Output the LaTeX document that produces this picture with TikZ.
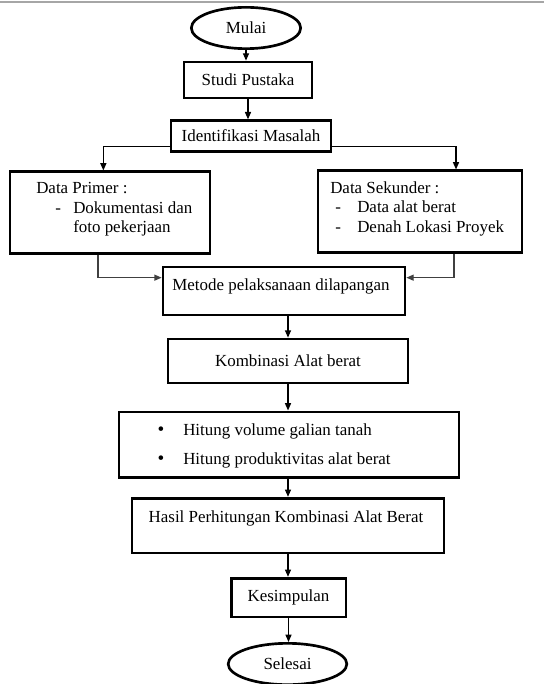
\documentclass[tikz,border=0pt]{standalone}
\usepackage{fontspec}
\setmainfont{Liberation Serif}
\usetikzlibrary{shapes.geometric,arrows.meta}

\begin{document}
\begin{tikzpicture}[x=0.75pt,y=-0.75pt,
  >={Triangle[length=5.5pt,width=4.5pt]},
  txt/.style={font=\fontsize{12.7}{15}\selectfont, inner sep=0pt},
  kotak/.style={draw, line width=2pt, inner sep=0pt},
  oval/.style={draw, ellipse, line width=2pt, inner sep=0pt, font=\fontsize{12.7}{15}\selectfont},
  panah/.style={->, line width=1pt}]
\useasboundingbox (0,0) rectangle (544,684);
%garis atas
\draw [gray!70, line width=0.8pt] (0,2) -- (544,2);

%mulai
\node [oval, minimum width=82pt, minimum height=31pt] (mulai) at (246,28) {Mulai};
\node [kotak, txt, minimum width=96pt, minimum height=27pt] (studi) at (248,80) {Studi Pustaka};
\node [kotak, txt, minimum width=120pt, minimum height=23pt] (ident) at (251,136) {Identifikasi Masalah};

%data
\node [kotak, minimum width=150pt, minimum height=61pt] (primer) at (110,212.5) {};
\node [txt, anchor=base west] (primer1) at (36,194) {Data Primer :};
\node [txt, anchor=base west] (primer2) at (55,214) {-};
\node [txt, anchor=base west] (primer3) at (73,214) {Dokumentasi dan};
\node [txt, anchor=base west] (primer4) at (73,232) {foto pekerjaan};

\node [kotak, minimum width=153pt, minimum height=61pt] (sekunder) at (420,211.5) {};
\node [txt, anchor=base west] (sekunder1) at (330,194) {Data Sekunder :};
\node [txt, anchor=base west] (sekunder2) at (335,213) {-};
\node [txt, anchor=base west] (sekunder3) at (357,213) {Data alat berat};
\node [txt, anchor=base west] (sekunder4) at (335,232) {-};
\node [txt, anchor=base west] (sekunder5) at (357,232) {Denah Lokasi Proyek};

%metode
\node [kotak, minimum width=181.5pt, minimum height=36pt] (metode) at (284,291) {};
\node [txt] (metode1) at (281,286) {Metode pelaksanaan dilapangan};

\node [kotak, txt, minimum width=180pt, minimum height=33pt] (kombinasi) at (288,361) {Kombinasi Alat berat};

%hitung
\node [kotak, minimum width=255pt, minimum height=49pt] (hitung) at (289,444.5) {};
\node [txt, anchor=base] (bul1) at (161,435) {\Large\textbullet};
\node [txt, anchor=base west] (hitung1) at (183,435) {Hitung volume galian tanah};
\node [txt, anchor=base] (bul2) at (161,464) {\Large\textbullet};
\node [txt, anchor=base west] (hitung2) at (183,464) {Hitung produktivitas alat berat};

\node [kotak, minimum width=234pt, minimum height=41pt] (hasil) at (288,525.5) {};
\node [txt] (hasil1) at (286,518) {Hasil Perhitungan Kombinasi Alat Berat};

\node [kotak, txt, minimum width=86pt, minimum height=29pt] (simpul) at (288.5,597.5) {Kesimpulan};

%selesai
\node [oval, minimum width=89pt, minimum height=31pt] (selesai) at (287.5,664) {Selesai};

%panah
\draw [panah] (mulai) -- (mulai |- studi.north);
\draw [panah] (studi) -- (studi |- ident.north);
\draw [panah] ([yshift=-8pt]ident.west) -| ([xshift=-5pt]primer.north);
\draw [panah] ([yshift=-8pt]ident.east) -| ([xshift=27pt]sekunder.north);
\draw [panah, black!75] ([xshift=-9pt]primer.south) |- ([yshift=10pt]metode.west);
\draw [panah, black!75] ([xshift=25.5pt]sekunder.south) |- ([yshift=10pt]metode.east);
\draw [panah] (kombinasi.north |- metode.south) -- (kombinasi.north);
\draw [panah] (kombinasi) -- (kombinasi |- hitung.north);
\draw [panah] (hasil.north |- hitung.south) -- (hasil.north);
\draw [panah] (hasil) -- (hasil |- simpul.north);
\draw [panah] (simpul) -- (simpul |- selesai.north);

\end{tikzpicture}
\end{document}
